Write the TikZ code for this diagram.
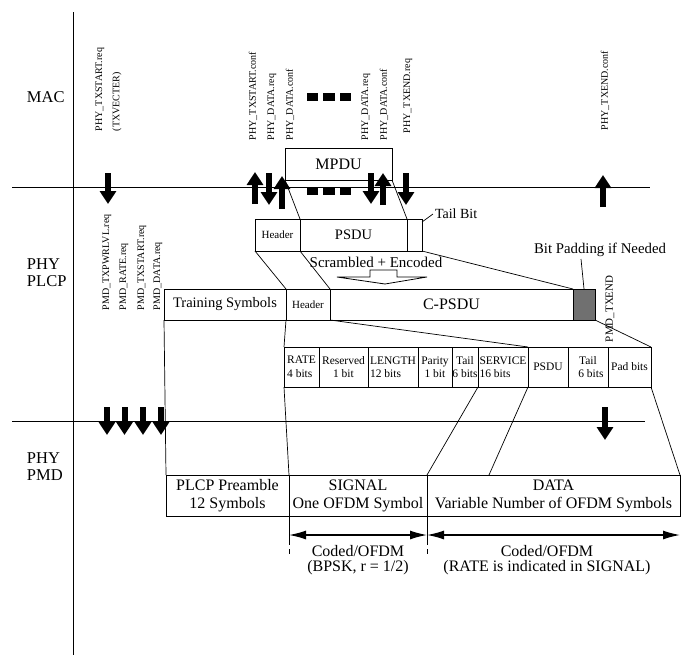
\documentclass[tikz,border=0pt]{standalone}
\usepackage{fontspec}
\setmainfont{Liberation Serif}
\usetikzlibrary{arrows.meta,calc}
\definecolor{padgray}{RGB}{112,112,112}
\begin{document}
\begin{tikzpicture}[x=1pt,y=-1pt,
  every node/.style={inner sep=0pt, outer sep=0pt},
  box/.style={draw, line width=1pt, anchor=north west, inner sep=0pt},
  conn/.style={line width=0.7pt},
  axis/.style={line width=1pt},
  blk/.style={line width=6pt, -{Triangle[width=16pt,length=13pt]}},
  dimarr/.style={line width=1.4pt, {Latex[length=17pt,width=9pt]}-{Latex[length=17pt,width=9pt]}},
  rlab/.style={rotate=90, anchor=west, font=\fontsize{10}{12}\selectfont},
  laylab/.style={anchor=west, align=left, font=\fontsize{16.5}{17}\selectfont},
  fld/.style={box, minimum height=40pt, font=\fontsize{11.5}{13.5}\selectfont},
  pmd/.style={box, minimum height=41pt, align=center, font=\fontsize{16}{18}\selectfont},
  dsh/.style={fill=black}
]
\useasboundingbox (0,0) rectangle (681,657);

% axes
\coordinate (vt) at (73,12);  \coordinate (vb) at (73,655);
\coordinate (h1l) at (12,187); \coordinate (h1r) at (650,187);
\coordinate (h2l) at (12,421); \coordinate (h2r) at (645,421);
\draw[axis] (vt) -- (vb);
\draw[axis] (h1l) -- (h1r);
\draw[axis] (h2l) -- (h2r);

% layer labels
\node[laylab] (lmac) at (27,97) {MAC};
\node[laylab] (lplcp) at (27,273) {PHY\\PLCP};
\node[laylab] (lpmd) at (27,467) {PHY\\PMD};

% MAC primitives
\node[rlab] (p1) at (100,131) {PHY\_TXSTART.req};
\node[rlab] (p1b) at (117,131) {(TXVECTER)};
\node[rlab] (p2) at (253,140) {PHY\_TXSTART.conf};
\node[rlab] (p3) at (272,140) {PHY\_DATA.req};
\node[rlab] (p4) at (290,140) {PHY\_DATA.conf};
\node[rlab] (p5) at (366,140) {PHY\_DATA.req};
\node[rlab] (p6) at (384,140) {PHY\_DATA.conf};
\node[rlab] (p7) at (408,133) {PHY\_TXEND.req};
\node[rlab] (p8) at (605,130) {PHY\_TXEND.conf};

% dashes
\fill[dsh] (307,93) rectangle (318,101);
\fill[dsh] (323,93) rectangle (335,101);
\fill[dsh] (340,93) rectangle (351,101);
\fill[dsh] (307,188) rectangle (318,195);
\fill[dsh] (323,188) rectangle (335,195);
\fill[dsh] (340,188) rectangle (351,195);

% MAC/PLCP arrows
\foreach \n/\x/\ya/\yb in {d1/108/173/204, d2/269/173/205, d3/371/173/204, d4/406/173/205,
                          u1/255/204/172, u2/282/209/176, u3/383/205/173, u4/603/207/175}{
  \coordinate (\n a) at (\x,\ya); \coordinate (\n b) at (\x,\yb);
  \draw[blk] (\n a) -- (\n b);
}

% MPDU
\node[box, minimum width=107pt, minimum height=32pt, font=\fontsize{16}{18}\selectfont] (mpdu) at (285,148) {MPDU};

% PSDU row
\node[box, minimum width=45pt, minimum height=32pt, font=\fontsize{11}{13}\selectfont] (hdrA) at (255,219) {Header};
\node[box, minimum width=107pt, minimum height=32pt, font=\fontsize{14.5}{16}\selectfont] (psduA) at (300,219) {PSDU};
\node[box, minimum width=15pt, minimum height=32pt] (tailA) at (407,219) {};
\node[anchor=west, font=\fontsize{14}{16}\selectfont] (tbl) at (435,214) {Tail Bit};
\draw[conn] ($(tailA.north east)+(0,3)$) -- ($(tbl.west)+(-2,0)$);

\draw[conn] (mpdu.south west) -- (psduA.north west);
\draw[conn] (mpdu.south east) -- (psduA.north east);

% scrambled + encoded
\node[font=\fontsize{15}{17}\selectfont] (scr) at (376,262) {Scrambled + Encoded};
\draw[line width=0.8pt] (337,277) -- (370,277) -- (370,270) -- (397,270) -- (397,277) -- (427,277) -- (385,284) -- cycle;

% C-PSDU row
\node[box, minimum width=122pt, minimum height=31pt, font=\fontsize{14.5}{16}\selectfont] (train) at (164,289) {Training Symbols};
\node[box, minimum width=44pt, minimum height=31pt, font=\fontsize{11}{13}\selectfont] (hdrB) at (286,289) {Header};
\node[box, minimum width=243pt, minimum height=31pt, font=\fontsize{16}{18}\selectfont] (cpsdu) at (330,289) {C-PSDU};
\node[box, minimum width=22pt, minimum height=31pt, fill=padgray] (pad) at (573,289) {};
\node[font=\fontsize{14.8}{16}\selectfont] (bpl) at (600,250) {Bit Padding if Needed};
\draw[conn] ($(pad.north)+(-3,-30)$) -- (pad.north);

\draw[conn] (hdrA.south west) -- (hdrB.north west);
\draw[conn] (psduA.south west) -- (cpsdu.north west);
\draw[conn] (tailA.south east) -- (cpsdu.north east);

% PMD primitives
\node[rlab] (q1) at (107,310) {PMD\_TXPWRLVL.req};
\node[rlab] (q2) at (124,310) {PMD\_RATE.req};
\node[rlab] (q3) at (142,310) {PMD\_TXSTART.req};
\node[rlab] (q4) at (158,310) {PMD\_DATA.req};
\node[rlab, font=\fontsize{11}{13}\selectfont] (q5) at (610,342) {PMD\_TXEND};

% fields row
\node[fld, minimum width=35pt, align=left] (rate) at (284,347) {RATE\\4 bits};
\node[fld, minimum width=49pt, align=center] (resv) at (319,347) {Reserved\\1 bit};
\node[fld, minimum width=50pt, align=left] (len) at (368,347) {LENGTH\\12 bits};
\node[fld, minimum width=34pt, align=center] (par) at (418,347) {Parity\\1 bit};
\node[fld, minimum width=26pt, align=center] (tl1) at (452,347) {Tail\\6 bits};
\node[fld, minimum width=50pt, align=left] (serv) at (478,347) {SERVICE\\16 bits};
\node[fld, minimum width=40pt, align=center] (psdB) at (528,347) {PSDU};
\node[fld, minimum width=40pt, align=center] (tl2) at (568,347) {Tail\\\hspace*{6pt}6 bits};
\node[fld, minimum width=43pt, align=center] (padb) at (608,347) {Pad bits};

\draw[conn] (hdrB.south west) -- (rate.north west);
\draw[conn] (hdrB.south east) -- (serv.north east);
\draw[conn] (pad.south east) -- (padb.north east);

% PMD/PLCP arrows
\foreach \n/\x/\ya/\yb in {e1/107/407/435, e2/124.5/407/435, e3/143/407/435, e4/161/407/435, e5/605/407/440}{
  \coordinate (\n a) at (\x,\ya); \coordinate (\n b) at (\x,\yb);
  \draw[blk] (\n a) -- (\n b);
}

% PMD row
\node[pmd, minimum width=123pt] (pre) at (166,475) {PLCP Preamble\\12 Symbols};
\node[pmd, minimum width=138pt] (sig) at (289,475) {SIGNAL\\One OFDM Symbol};
\node[pmd, minimum width=253pt] (data) at (427,475) {DATA\\Variable Number of OFDM Symbols};

\draw[conn] (train.south west) -- (pre.north west);
\draw[conn] (rate.south west) -- (sig.north west);
\draw[conn] (tl1.south east) -- (data.north west);
\draw[conn] (serv.south east) -- ($(data.north west)+(62,0)$);
\draw[conn] (padb.south east) -- (data.north east);

% dimension arrows
\coordinate (t1) at (289,557); \coordinate (t2) at (427,557);
\draw[conn] (sig.south west) -- (289,540);
\draw[conn] (sig.south east) -- (427,540);
\draw[conn, dash pattern=on 5pt off 4pt] (289,540) -- (t1);
\draw[conn, dash pattern=on 5pt off 4pt] (427,540) -- (t2);
\coordinate (a1) at (289,535); \coordinate (a2) at (427,535); \coordinate (a3) at (680,535);
\draw[dimarr] (a1) -- (a2);
\draw[dimarr] (a2) -- (a3);

\node[align=center, font=\fontsize{16}{14.5}\selectfont] (c1) at (358,560) {Coded/OFDM\\(BPSK, r = 1/2)};
\node[align=center, font=\fontsize{16}{14.5}\selectfont] (c2) at (547,560) {Coded/OFDM\\(RATE is indicated in SIGNAL)};
\end{tikzpicture}
\end{document}
